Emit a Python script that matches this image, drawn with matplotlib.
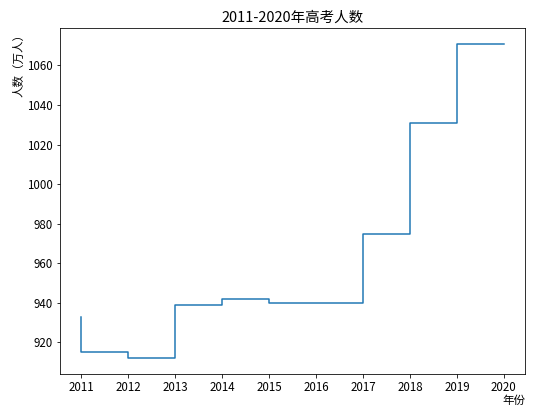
import matplotlib
matplotlib.use("Agg")
import matplotlib.pyplot as plt

plt.rcParams['font.family'] = ['Noto Sans CJK SC', 'DejaVu Sans']
plt.rcParams['font.size'] = 11.5
plt.rcParams['axes.unicode_minus'] = False

years = [2011, 2012, 2013, 2014, 2015, 2016, 2017, 2018, 2019, 2020]
counts = [933, 915, 912, 939, 942, 940, 940, 975, 1031, 1071]

fig = plt.figure(figsize=(537 / 72, 419 / 72), dpi=72)
ax = fig.add_axes([60 / 537, 1 - 374 / 419, (525 - 60) / 537, (374 - 28) / 419])

ax.step(years, counts)
ax.set_xticks(years)
ax.set_title("2011-2020年高考人数", fontsize=14.5)
ax.set_xlabel("年份", loc="right", labelpad=0)
ax.set_ylabel("人数（万人）", loc="top", labelpad=2)

fig.savefig("out.png", dpi=72)
